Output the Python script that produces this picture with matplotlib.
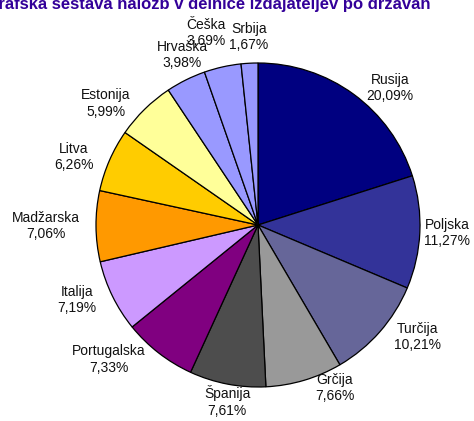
import numpy as np
import matplotlib
matplotlib.use("Agg")
import matplotlib.pyplot as plt

plt.rcParams['font.family'] = ['Liberation Sans', 'DejaVu Sans']

drzave = ["Rusija", "Poljska", "Turčija", "Grčija", "Španija", "Portugalska",
          "Italija", "Madžarska", "Litva", "Estonija", "Hrvaška", "Češka", "Srbija"]
deleži = [20.09, 11.27, 10.21, 7.66, 7.61, 7.33, 7.19, 7.06, 6.26, 5.99, 3.98, 3.69, 1.67]
barve = ["#000080", "#333399", "#666699", "#999999", "#4d4d4d", "#800080",
         "#cc99ff", "#ff9900", "#ffcc00", "#ffff99", "#9999ff", "#9999ff", "#9999ff"]

W, H = 474, 421
fig = plt.figure(figsize=(W / 100, H / 100), dpi=100)

# pie center (258, 225) px, radius 162 px
cx, cy, r = 258, 225, 162
ax = fig.add_axes([(cx - r) / W, (H - cy - r) / H, 2 * r / W, 2 * r / H])

wedges, _ = ax.pie(deleži, colors=barve, startangle=90, counterclock=False,
                   radius=1, wedgeprops=dict(edgecolor='black', linewidth=0.9))
ax.set_xlim(-1, 1)
ax.set_ylim(-1, 1)
ax.axis('off')

napisi = []
for w, ime, d in zip(wedges, drzave, deleži):
    kot = np.deg2rad((w.theta1 + w.theta2) / 2)
    c, s = np.cos(kot), np.sin(kot)
    if s > 0.85:
        ha, va, off, rr = 'center', 'bottom', (0, 2), 1.05
    elif abs(c) >= 0.25:
        ha = 'left' if c > 0 else 'right'
        va, off, rr = 'center', (6 * np.sign(c), 0), 1.05
    else:
        ha, va, off, rr = 'center', 'top', (0, -1), 1.0
    t = ax.annotate(f"{ime}\n{d:.2f}%".replace('.', ','), (rr * c, rr * s), xytext=off,
                    textcoords='offset points', ha=ha, va=va, multialignment='center',
                    fontsize=10, color='#111111', annotation_clip=False)
    napisi.append(t)

# keep labels inside the figure and move the first overlapping one aside (Češka)
fig.canvas.draw()
rend = fig.canvas.get_renderer()
px = 0.72  # points per pixel at dpi 100
prejsnji = None
premaknjen = False
for t in reversed(napisi):
    bb = t.get_window_extent(rend)
    ox, oy = t.xyann
    if bb.x1 > W - 4:
        ox -= (bb.x1 - (W - 4)) * px
    if not premaknjen and prejsnji is not None and bb.overlaps(prejsnji):
        ox -= (bb.x1 - prejsnji.x0 + 4) * px
        oy += 8 * px
        premaknjen = True
    t.xyann = (ox, oy)
    prejsnji = t.get_window_extent(rend)

fig.text(430 / W, 1 - 9 / H, "Geografska sestava naložb v delnice izdajateljev po državah",
         ha='right', va='baseline', fontsize=12, fontweight='bold', color='#330099')

fig.savefig("out.png", dpi=100)
